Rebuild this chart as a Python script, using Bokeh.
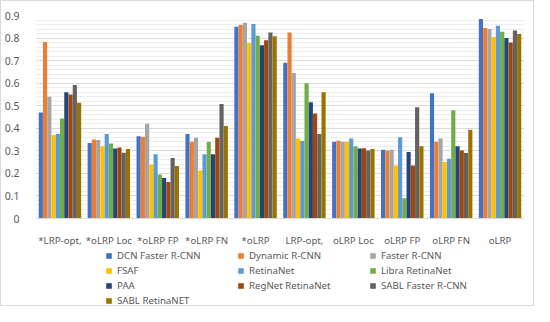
from bokeh.plotting import figure
from bokeh.models import FactorRange, Legend, LegendItem, ColumnDataSource, FixedTicker, NumeralTickFormatter
from bokeh.transform import dodge
from bokeh.embed import file_html
from bokeh.resources import INLINE

categories = ["*LRP-opt,", "*oLRP Loc", "*oLRP FP", "*oLRP FN", "*oLRP",
              "LRP-opt,", "oLRP Loc", "oLRP FP", "oLRP FN", "oLRP"]

series_names = ["DCN Faster R-CNN", "Dynamic R-CNN", "Faster R-CNN", "FSAF", "RetinaNet",
                "Libra RetinaNet", "PAA", "RegNet RetinaNet", "SABL Faster R-CNN", "SABL RetinaNET"]

dcn_faster_rcnn   = [0.470, 0.335, 0.365, 0.375, 0.850, 0.690, 0.340, 0.305, 0.555, 0.885]
dynamic_rcnn      = [0.783, 0.350, 0.363, 0.340, 0.858, 0.825, 0.345, 0.300, 0.340, 0.845]
faster_rcnn       = [0.540, 0.348, 0.420, 0.358, 0.868, 0.645, 0.340, 0.305, 0.355, 0.840]
fsaf              = [0.370, 0.320, 0.240, 0.213, 0.778, 0.355, 0.340, 0.235, 0.250, 0.805]
retinanet         = [0.375, 0.375, 0.285, 0.285, 0.862, 0.345, 0.355, 0.360, 0.265, 0.855]
libra_retinanet   = [0.443, 0.332, 0.195, 0.340, 0.810, 0.600, 0.320, 0.090, 0.480, 0.828]
paa               = [0.560, 0.310, 0.180, 0.285, 0.768, 0.515, 0.310, 0.295, 0.320, 0.800]
regnet_retinanet  = [0.550, 0.315, 0.162, 0.358, 0.790, 0.465, 0.312, 0.235, 0.302, 0.780]
sabl_faster_rcnn  = [0.592, 0.292, 0.268, 0.508, 0.825, 0.375, 0.302, 0.493, 0.290, 0.833]
sabl_retinanet    = [0.513, 0.308, 0.233, 0.410, 0.808, 0.560, 0.308, 0.320, 0.393, 0.818]

all_series = [dcn_faster_rcnn, dynamic_rcnn, faster_rcnn, fsaf, retinanet,
              libra_retinanet, paa, regnet_retinanet, sabl_faster_rcnn, sabl_retinanet]

y_ticks = [0, 0.1, 0.2, 0.3, 0.4, 0.5, 0.6, 0.7, 0.8, 0.9]
y_minor_ticks = [round(i * 0.02, 2) for i in range(46)]

colors = ["#4472C4", "#ED7D31", "#A5A5A5", "#FFC000", "#5B9BD5",
          "#70AD47", "#264478", "#9E480E", "#636363", "#997300"]

FONT = "Noto Sans"
TXT = "#595959"

data = {"cat": categories}
for i, s in enumerate(all_series):
    data[f"s{i}"] = s
source = ColumnDataSource(data)

# frame extends below zero so the legend can sit under the category labels
p = figure(x_range=FactorRange(*categories), y_range=(-0.3945, 0.9),
           width=534, height=306, output_backend="svg", toolbar_location=None,
           min_border_left=28, min_border_right=11, min_border_top=14, min_border_bottom=0)
p.styles = {"border": "1px solid #d9d9d9", "box-sizing": "border-box"}
p.x_range.range_padding = 0

bw = 0.087
items = []
for i in range(10):
    r = p.vbar(x=dodge("cat", (i - 4.5) * bw, range=p.x_range), top=f"s{i}", width=bw * 0.98,
               source=source, fill_color=colors[i], line_color=None)
    items.append(LegendItem(label=series_names[i], renderers=[r]))

p.outline_line_color = None
p.background_fill_color = "white"

p.yaxis.ticker = FixedTicker(ticks=y_ticks, minor_ticks=y_minor_ticks)
p.yaxis.formatter = NumeralTickFormatter(format="0.[0]")
p.yaxis.axis_line_color = None
p.yaxis.major_tick_line_color = None
p.yaxis.minor_tick_line_color = None
p.yaxis.major_label_text_font = FONT
p.yaxis.major_label_text_font_size = "10.5px"
p.yaxis.major_label_text_color = TXT
p.yaxis.major_label_standoff = 10

p.xaxis.fixed_location = 0
p.xaxis.axis_line_color = "#d9d9d9"
p.xaxis.major_tick_line_color = None
p.xaxis.minor_tick_line_color = None
p.xaxis.major_label_text_font = FONT
p.xaxis.major_label_text_font_size = "9.7px"
p.xaxis.major_label_text_color = TXT
p.xaxis.major_label_standoff = 9

p.xgrid.grid_line_color = None
p.ygrid.grid_line_color = "#d9d9d9"
p.ygrid.minor_grid_line_color = "#eeeeee"

legend = Legend(items=items, orientation="horizontal", ncols=3,
                border_line_color=None, background_fill_alpha=0,
                label_text_font=FONT, label_text_font_size="9.7px", label_text_color=TXT,
                glyph_width=7, glyph_height=7, label_width=120, label_height=15,
                spacing=0, padding=0, margin=0, label_standoff=5, location=(70, -1))
p.add_layout(legend, "center")

open("out.html", "w").write(file_html(p, INLINE))
